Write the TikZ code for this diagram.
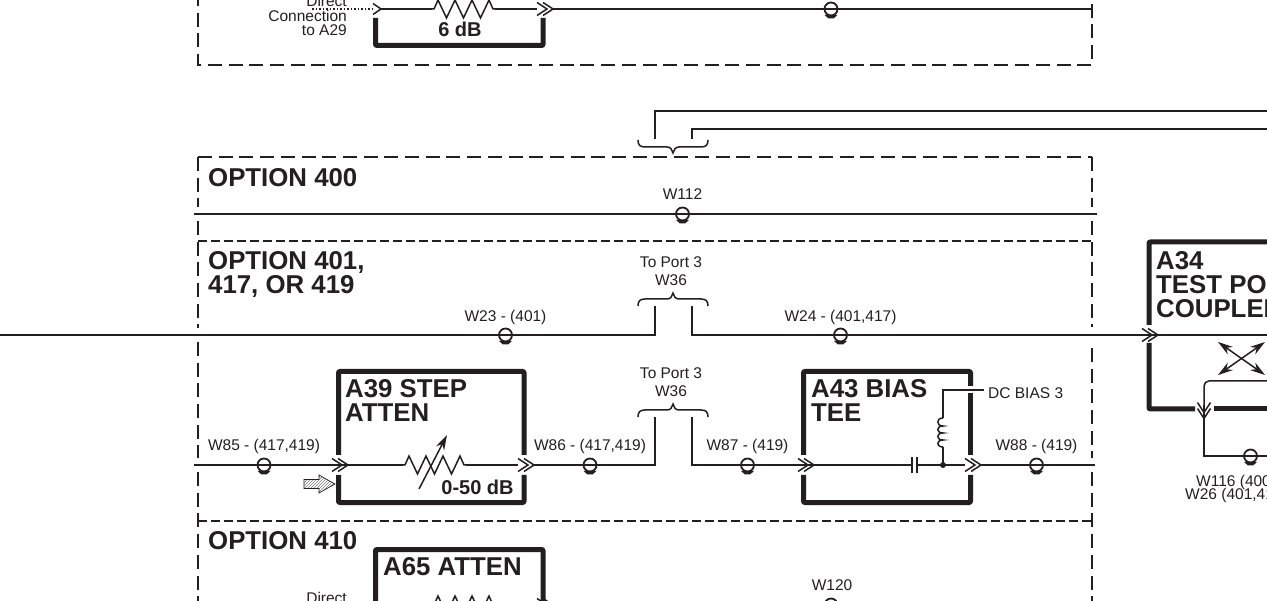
\documentclass[tikz,border=0pt]{standalone}
\usepackage{fontspec}
\setmainfont{Liberation Sans}
\usetikzlibrary{patterns,arrows.meta}
\definecolor{ink}{HTML}{231F20}
\tikzset{
	wire/.style={draw=ink, line width=1.5pt},
	wall/.style={draw=ink, line width=5pt, line join=round, rounded corners=1pt},
	dashbox/.style={draw=ink, line width=2.8pt, dash pattern=on 14pt off 6.7pt},
	dashthin/.style={draw=ink, line width=1.6pt, dash pattern=on 8.5pt off 4.5pt},
	lbl/.style={inner sep=0pt, text=ink, font=\fontsize{15.5}{17}\selectfont, anchor=base},
	ttl/.style={inner sep=0pt, text=ink, align=left, anchor=base west, font=\fontsize{25.8}{24}\selectfont\bfseries},
	val/.style={inner sep=0pt, text=ink, anchor=base, font=\fontsize{20}{22}\selectfont\bfseries},
	pics/cable/.style={code={
		\draw[ink, line width=1.8pt] (0,0) circle (6.5);
		\fill[ink] (-6.5,6) -- (6.5,6) -- (2.5,9.5) -- (-2.5,9.5) -- cycle;
	}},
	pics/dchev/.style={code={
		\draw[wire, line join=miter] (0,-6.5) -- (10,0) -- (0,6.5);
		\draw[wire, line join=miter] (6,-6.5) -- (16,0) -- (6,6.5);
	}},
	pics/schev/.style={code={
		\draw[wire, line join=miter] (0,-5.5) -- (8,0) -- (0,5.5);
	}},
	pics/zigzag/.style={code={
		\draw[wire, line join=miter] (0,0) -- (2,0) -- (6,-9) -- (14.5,9) -- (23,-9) -- (31.5,9) -- (40,-9) -- (48.5,9) -- (57,-9) -- (61,0) -- (63,0);
	}},
	pics/curly/.style={code={
		\draw[wire] (-35,7) .. controls (-35,2) and (-33,0) .. (-28,0) -- (-6,0)
			.. controls (-2,0) and (-1,-3) .. (0,-6) .. controls (1,-3) and (2,0) .. (6,0)
			-- (28,0) .. controls (33,0) and (35,2) .. (35,7);
	}},
}

\begin{document}
\begin{tikzpicture}[x=1pt, y=-1pt]
	\clip (0,0) rectangle (1267,601);
	\fill[white] (0,0) rectangle (1267,601);

	% Dashed option frames
	\coordinate (topA) at (198,-8);
	\coordinate (topB) at (198,65);
	\coordinate (topC) at (1092,65);
	\coordinate (topD) at (1092,-8);
	\draw[dashbox] (topA) -- (topB) -- (topC) -- (topD);
	\coordinate (optA) at (198,157);
	\coordinate (optB) at (1092,157);
	\draw[dashbox] (optA) -- (optB);
	\draw[dashbox] (198,157) -- (198,207);
	\draw[dashbox] (198,221) -- (198,328);
	\draw[dashbox] (198,342) -- (198,458);
	\draw[dashbox] (198,472) -- (198,610);
	\draw[dashbox] (1092,157) -- (1092,207);
	\draw[dashbox] (1092,221) -- (1092,327);
	\draw[dashbox] (1092,348) -- (1092,458);
	\draw[dashbox] (1092,472) -- (1092,610);
	\coordinate (sepA) at (198,241);
	\coordinate (sepB) at (1092,241);
	\coordinate (sepC) at (198,521);
	\coordinate (sepD) at (1092,521);
	\draw[dashthin] (sepA) -- (sepB);
	\draw[dashthin] (sepC) -- (sepD);

	\node[ttl] (opt400) at (208,187) {OPTION 400};
	\node[ttl, anchor=north west] (opt401) at (208,251) {OPTION 401,\\417, OR 419};
	\node[ttl] (opt410) at (208,549) {OPTION 410};

	% Upper attenuator path
	\coordinate (dirA) at (312,9);
	\coordinate (dirB) at (373,9);
	\coordinate (upA) at (381,9);
	\coordinate (upB) at (432,9);
	\coordinate (upC) at (495,9);
	\coordinate (upD) at (537,9);
	\coordinate (upE) at (553,9);
	\coordinate (upF) at (1092,9);
	\draw[ink, line width=1.5pt, dotted] (dirA) -- (dirB);
	\draw[wire] (upA) -- (upB);
	\draw[wire] (upC) -- (upD);
	\draw[wire] (upE) -- (upF);
	\pic at (upB) {zigzag};
	\pic at (373,9) {schev};
	\pic at (upD) {dchev};
	\pic at (831,9) {cable};
	\draw[wall] (375.5,18) -- (375.5,45.5) -- (543,45.5) -- (543,18);
	\node[lbl, anchor=base east] (dirUp) at (347,7) {Direct};
	\node[lbl, anchor=base east] (conUp) at (347,22) {Connection};
	\node[lbl, anchor=base east] (toUp) at (347,36) {to A29};
	\node[val] (dbUp) at (460,37) {6 dB};

	% W112 line
	\coordinate (linA) at (194,214);
	\coordinate (linB) at (1097,214);
	\draw[wire] (linA) -- (linB);
	\pic at (682.5,214) {cable};
	\node[lbl] (w112) at (682.5,200) {W112};

	% Braces with their cables
	\coordinate (bA) at (655,139);
	\coordinate (bB) at (655,111);
	\coordinate (bC) at (1270,111);
	\coordinate (bD) at (692,139);
	\coordinate (bE) at (692,129);
	\coordinate (bF) at (1270,129);
	\draw[wire] (bA) -- (bB) -- (bC);
	\draw[wire] (bD) -- (bE) -- (bF);
	\pic[yscale=-1] at (673,147) {curly};
	\pic at (673,299) {curly};
	\pic at (673,410) {curly};
	\node[lbl] (port3a) at (671,268) {To Port 3};
	\node[lbl] (w36a) at (671,286) {W36};
	\node[lbl] (port3b) at (671,379) {To Port 3};
	\node[lbl] (w36b) at (671,397) {W36};

	% Through line to the coupler
	\coordinate (thA) at (-3,335);
	\coordinate (thB) at (655,335);
	\coordinate (thC) at (655,306);
	\coordinate (thD) at (692,306);
	\coordinate (thE) at (692,335);
	\coordinate (thF) at (1270,335);
	\draw[wire] (thA) -- (thB) -- (thC);
	\draw[wire] (thD) -- (thE) -- (thF);
	\pic at (505.5,335) {cable};
	\pic at (840.5,335) {cable};
	\node[lbl] (w23) at (505.5,322) {W23 - (401)};
	\node[lbl] (w24) at (840.5,322) {W24 - (401,417)};

	% A39 step attenuator
	\draw[wall] (338.5,455) -- (338.5,371.5) -- (524,371.5) -- (524,455);
	\draw[wall] (338.5,475) -- (338.5,502.5) -- (524,502.5) -- (524,475);
	\node[ttl, anchor=north west] (a39) at (345,379) {A39 STEP\\ATTEN};
	\node[val] (db39) at (477.5,494) {0-50 dB};
	\coordinate (mainA) at (194,465);
	\coordinate (mainB) at (347,465);
	\coordinate (mainC) at (403,465);
	\coordinate (mainD) at (466,465);
	\coordinate (mainE) at (518,465);
	\coordinate (mainF) at (533,465);
	\coordinate (mainG) at (655,465);
	\coordinate (mainH) at (655,417);
	\draw[wire] (mainA) -- (mainB);
	\draw[wire] (mainB) -- (mainC);
	\draw[wire] (mainD) -- (mainE);
	\draw[wire] (mainF) -- (mainG) -- (mainH);
	\pic at (332,465) {dchev};
	\pic at (mainC) {zigzag};
	\pic at (mainE) {dchev};
	\pic at (264,465) {cable};
	\pic at (590,465) {cable};
	\coordinate (varA) at (419,489);
	\coordinate (varB) at (447,435);
	\draw[wire, -{Stealth[length=15pt, width=9pt]}] (varA) -- (varB);
	\node[lbl] (w85) at (264,451) {W85 - (417,419)};
	\node[lbl] (w86) at (590,451) {W86 - (417,419)};
	% Hatched test arrow
	\draw[ink, line width=.7pt, pattern=north east lines, pattern color=gray]
		(304,479.5) -- (319,479.5) -- (319,475) -- (335,484) -- (319,493) -- (319,488.5) -- (304,488.5) -- cycle;

	% A43 bias tee
	\draw[wall] (803.5,455) -- (803.5,371.5) -- (970.5,371.5) -- (970.5,386);
	\draw[wall] (970.5,393) -- (970.5,455);
	\draw[wall] (803.5,475) -- (803.5,502.5) -- (970.5,502.5) -- (970.5,475);
	\node[ttl, anchor=north west] (a43) at (811,379) {A43 BIAS\\TEE};
	\coordinate (teeA) at (692,417);
	\coordinate (teeB) at (692,465);
	\coordinate (teeC) at (812,465);
	\coordinate (teeD) at (912,465);
	\coordinate (teeE) at (917,465);
	\coordinate (teeF) at (965,465);
	\coordinate (teeG) at (980,465);
	\coordinate (teeH) at (1095,465);
	\draw[wire] (teeA) -- (teeB) -- (teeC);
	\draw[wire] (teeC) -- (teeD);
	\draw[wire] (teeE) -- (teeF);
	\draw[wire] (teeG) -- (teeH);
	\pic at (798,465) {dchev};
	\pic at (teeF) {dchev};
	\pic at (747.5,465) {cable};
	\pic at (1036.5,465) {cable};
	\draw[wire] (912,457.5) -- (912,473);
	\draw[wire] (917,457.5) -- (917,473);
	\coordinate (junc) at (943,465);
	\coordinate (indA) at (943,447);
	\coordinate (indB) at (943,418);
	\coordinate (dcA) at (943,390);
	\coordinate (dcB) at (984,390);
	\fill[ink] (junc) circle (3);
	\draw[wire] (junc) -- (indA);
	\draw[wire] (indB) -- (dcA) -- (dcB);
	\draw[wire] (indA) .. controls (936,447) and (936,440) .. (943,440)
		.. controls (936,440) and (936,433) .. (943,433)
		.. controls (936,433) and (936,426) .. (943,426)
		.. controls (936,426) and (936,418) .. (indB);
	\node[lbl, anchor=base west] (dc3) at (988,399) {DC BIAS 3};
	\node[lbl] (w87) at (747.5,451) {W87 - (419)};
	\node[lbl] (w88) at (1036.5,451) {W88 - (419)};

	% A34 test port coupler
	\draw[wall] (1149,325) -- (1149,242) -- (1275,242);
	\draw[wall] (1149,343) -- (1149,409) -- (1195,409);
	\draw[wall] (1213.5,409) -- (1275,409);
	\pic at (1142,335) {dchev};
	\node[ttl, anchor=north west] (a34) at (1156,251) {A34\\TEST PO\\COUPLER};
	\coordinate (cpA) at (1218,375);
	\coordinate (cpB) at (1265,342);
	\coordinate (cpC) at (1218,342);
	\coordinate (cpD) at (1265,375);
	\draw[wire, {Stealth[length=15pt, width=9pt]}-{Stealth[length=15pt, width=9pt]}] (cpA) -- (cpB);
	\draw[wire, {Stealth[length=15pt, width=9pt]}-{Stealth[length=15pt, width=9pt]}] (cpC) -- (cpD);
	\coordinate (loopA) at (1270,381);
	\coordinate (loopB) at (1204,381);
	\coordinate (loopC) at (1204,456);
	\coordinate (loopD) at (1270,456);
	\draw[wire, rounded corners=5pt] (loopA) -- (loopB) -- (1204,420);
	\draw[wire] (1204,405) -- (loopC) -- (loopD);
	\pic[rotate=-90] at (1204,402.5) {dchev};
	\pic at (1250.5,456) {cable};
	\node[lbl, anchor=base west] (w116) at (1196,486) {W116 (400};
	\node[lbl, anchor=base west] (w26) at (1185,500) {W26 (401,41};

	% A65 attenuator
	\draw[wall] (375.5,610) -- (375.5,549.5) -- (543,549.5) -- (543,610);
	\node[ttl] (a65) at (383,575) {A65 ATTEN};
	\node[lbl, anchor=base east] (dirLow) at (347,603) {Direct};
	\node[lbl] (w120) at (832,590) {W120};
	\coordinate (lowA) at (373,605);
	\coordinate (lowB) at (537,605);
	\pic at (lowA) {schev};
	\pic at (lowB) {dchev};
	\pic at (432,605) {zigzag};
	\pic at (831,605) {cable};
\end{tikzpicture}
\end{document}
